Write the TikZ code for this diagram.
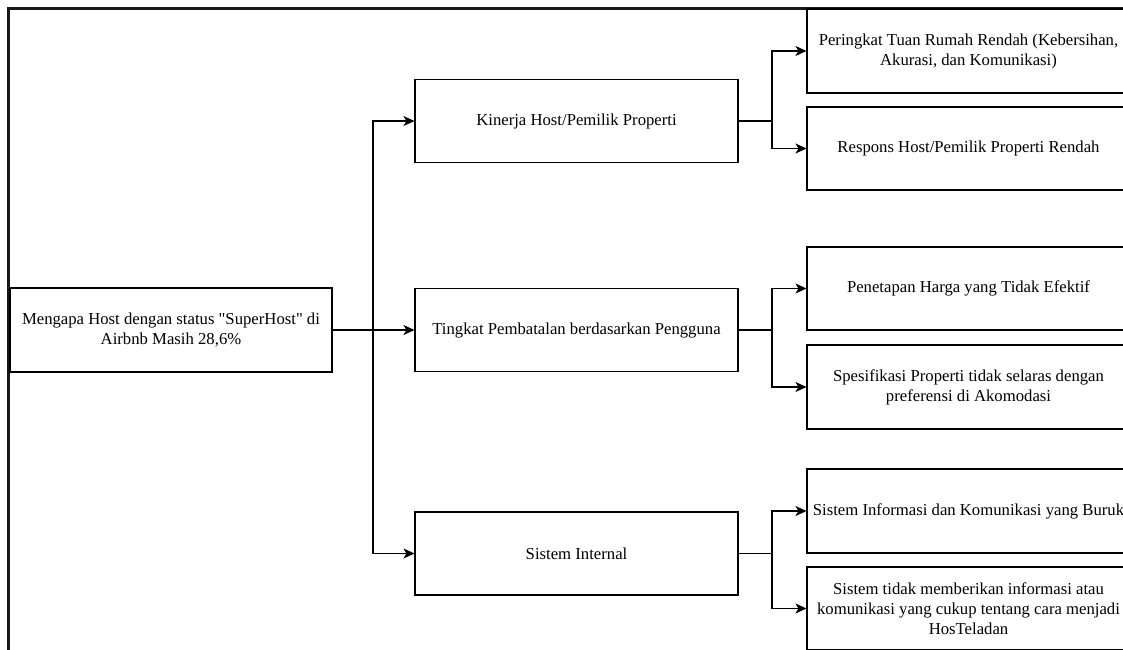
\documentclass[tikz,border=0pt]{standalone}
\usepackage{fontspec}
\setmainfont{Liberation Serif}[Ligatures=TeXOff]
\usetikzlibrary{arrows.meta}
\begin{document}
\begin{tikzpicture}[x=1pt,y=-1pt,
  box/.style={draw=black,line width=1.1pt,minimum width=323pt,minimum height=83pt,inner sep=0pt,align=center,
    font=\fontsize{16.7}{20}\selectfont,text=black},
  conn/.style={draw=black,line width=1.1pt},
  arr/.style={conn,-{Stealth[length=11pt,width=10pt,inset=3pt]}}]
\useasboundingbox (0,0) rectangle (1123,649);
\clip (0,0) rectangle (1123,649);
% frame of the screenshot
\draw[line width=3pt,black!90] (8.5,660) -- (8.5,8.5) -- (1130,8.5);
% root
\node[box,minimum width=322pt,minimum height=84pt] (root) at (171,330) {Mengapa Host dengan status "SuperHost" di\\Airbnb Masih 28,6\%};
% middle level
\node[box] (k) at (576.5,121) {Kinerja Host/Pemilik Properti};
\node[box] (t) at (576.5,330) {Tingkat Pembatalan berdasarkan Pengguna};
\node[box] (s) at (576.5,553.5) {Sistem Internal};
% right level
\node[box,minimum height=84pt] (k1) at (968.5,51) {Peringkat Tuan Rumah Rendah (Kebersihan,\\Akurasi, dan Komunikasi)};
\node[box] (k2) at (968.5,148.5) {Respons Host/Pemilik Properti Rendah};
\node[box] (t1) at (968.5,288.5) {Penetapan Harga yang Tidak Efektif};
\node[box,minimum height=84pt] (t2) at (968.5,387) {Spesifikasi Properti tidak selaras dengan\\preferensi di Akomodasi};
\node[box,minimum height=84pt] (s1) at (968.5,511) {Sistem Informasi dan Komunikasi yang Buruk};
\node[box] (s2) at (968.5,608.5) {Sistem tidak memberikan informasi atau\\komunikasi yang cukup tentang cara menjadi\\HosTeladan};
% junctions
\coordinate (j0) at (373,330);
\coordinate (jk) at (772,121);
\coordinate (jt) at (772,330);
\coordinate (js) at (772,553.5);
% connectors
\draw[conn] (root.east) -- (j0);
\draw[arr] (j0) |- (k.west);
\draw[arr] (j0) |- (s.west);
\draw[arr] (j0) -- (t.west);
\draw[conn] (k.east) -- (jk);
\draw[arr] (jk) |- (k1.west);
\draw[arr] (jk) |- (k2.west);
\draw[conn] (t.east) -- (jt);
\draw[arr] (jt) |- (t1.west);
\draw[arr] (jt) |- (t2.west);
\draw[conn] (s.east) -- (js);
\draw[arr] (js) |- (s1.west);
\draw[arr] (js) |- (s2.west);
\end{tikzpicture}
\end{document}
